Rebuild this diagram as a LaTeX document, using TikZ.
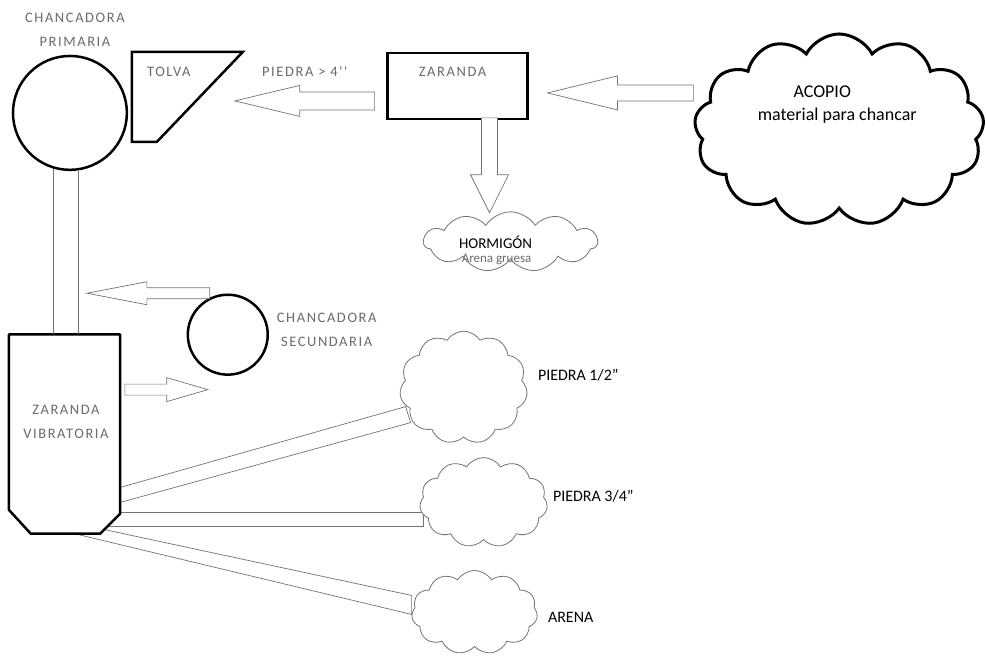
\documentclass[tikz,border=0pt]{standalone}
\usepackage{fontspec}
\setmainfont{Carlito}
\newfontfamily\spaced[LetterSpace=11]{Carlito}
\usetikzlibrary{shapes.symbols,calc}
\tikzset{
	crusher/.style  = {draw, circle, line width=2.5pt},
	screen/.style   = {draw, rectangle, line width=2.5pt},
	pile/.style     = {draw=black!55, fill=white, cloud, cloud puffs=11,
		cloud puff arc=115, line width=0.8pt},
	bigpile/.style  = {draw, fill=white, cloud, cloud puffs=13,
		cloud puff arc=125, line width=3pt},
	greylbl/.style  = {text=black!58, align=center,
		font=\spaced\fontsize{14.5}{24}\selectfont},
	blacklbl/.style = {text=black, align=center, font=\fontsize{16}{24}\selectfont},
	blk/.style      = {draw=black!55, line width=0.7pt, fill=white},
	chute/.style    = {draw=black!55, line width=0.7pt}
}
% block arrow: tail, tip, shaft half width, head half width, head length
\newcommand{\blockarrow}[5]{%
	\path ($(#2)!#5!(#1)$) coordinate (base);
	\draw[blk] ($(#1)!#3!90:(#2)$) -- ($(base)!#3!90:(#2)$) -- ($(base)!#4!90:(#2)$) -- (#2)
		-- ($(base)!#4!-90:(#2)$) -- ($(base)!#3!-90:(#2)$) -- ($(#1)!#3!-90:(#2)$) -- cycle;}

\begin{document}
\begin{tikzpicture}[x=1pt, y=-1pt]
	\fill[white] (0,0) rectangle (986,657);
	
	% Drawing the chutes out of the vibrating screen
	\coordinate (c1a) at (120,488); \coordinate (c1b) at (406,407);
	\coordinate (c1c) at (411,423); \coordinate (c1d) at (120,503);
	\coordinate (c2a) at (119,513); \coordinate (c2b) at (424,513);
	\coordinate (c2c) at (424,527); \coordinate (c2d) at (106,527);
	\coordinate (c3a) at (104,530); \coordinate (c3b) at (412,596);
	\coordinate (c3c) at (412,615); \coordinate (c3d) at (78,535);
	\draw[chute] (c1a) -- (c1b) -- (c1c) -- (c1d);
	\draw[chute] (c2a) -- (c2b) -- (c2c) -- (c2d);
	\draw[chute] (c3a) -- (c3b) -- (c3c) -- (c3d);
	
	% Drawing the equipment
	\draw
	node at (70,113) [crusher, minimum size=114pt] (prim) {}
	node at (228,335) [crusher, minimum size=80pt] (sec) {}
	node at (458,86) [screen, minimum width=140pt, minimum height=66pt] (zar) {}
	node at (64.5,434.5) [minimum width=111pt, minimum height=199pt] (vib) {}
	node at (840,130) [bigpile, minimum width=290pt, minimum height=192pt] (acopio) {}
	node at (511,242) [pile, minimum width=174pt, minimum height=60pt] (horm) {}
	node at (464,388) [pile, minimum width=128pt, minimum height=113pt] (p12) {}
	node at (484,503) [pile, minimum width=128pt, minimum height=90pt] (p34) {}
	node at (475,613) [pile, minimum width=126pt, minimum height=84pt] (arena) {}
	;
	% tolva and vibrating screen body
	\draw[line width=2.5pt] (132,52) -- (243,52) -- (157,142) -- (132,142) -- cycle;
	\draw[line width=2.5pt, line join=round] (vib.north west) -- (vib.north east)
		-- ($(vib.south east)+(0,-20)$) -- ($(vib.south east)+(-20,0)$)
		-- ($(vib.south west)+(22,0)$) -- ($(vib.south west)+(0,-24)$) -- cycle;
	
	% conduit from primary crusher to the vibrating screen
	\draw[chute] (prim.253) -- (prim.253 |- vib.north);
	\draw[chute] (prim.278) -- (prim.278 |- vib.north);
	
	% Drawing the block arrows
	\coordinate (a1tail) at (375,101); \coordinate (a1tip) at (235,101);
	\coordinate (a2tail) at (694,93);  \coordinate (a2tip) at (548,93);
	\coordinate (a3tail) at (490,118); \coordinate (a3tip) at (490,213);
	\coordinate (a4tail) at (210,293.5); \coordinate (a4tip) at (87,293.5);
	\coordinate (a5tail) at (125,390); \coordinate (a5tip) at (208,390);
	\blockarrow{a1tail}{a1tip}{9pt}{15.5pt}{65pt}
	\blockarrow{a2tail}{a2tip}{8pt}{17pt}{70pt}
	\blockarrow{a3tail}{a3tip}{8pt}{19pt}{38pt}
	\blockarrow{a4tail}{a4tip}{5.5pt}{11.5pt}{60pt}
	\blockarrow{a5tail}{a5tip}{5.5pt}{12pt}{41pt}
	
	% labels
	\draw
	node at (75,30) [greylbl] (lprim) {CHANCADORA\\PRIMARIA}
	node at (169,72) [greylbl] (ltolva) {TOLVA}
	node at (305,72) [greylbl] (lp4) {PIEDRA > 4''}
	node at (453,72) [greylbl] (lzar) {ZARANDA}
	node at (327,330) [greylbl] (lsec) {CHANCADORA\\SECUNDARIA}
	node at (66,422) [greylbl] (lvib) {ZARANDA\\VIBRATORIA}
	node at (823,92) [blacklbl, font=\fontsize{18}{22}\selectfont] (lacopio) {ACOPIO}
	node at (838,116) [blacklbl, font=\fontsize{18}{22}\selectfont] (lmat) {material para chancar}
	node at (496,243) [blacklbl, font=\fontsize{15}{18}\selectfont] (lhorm) {HORMIGÓN}
	node at (497,260) [greylbl, font=\fontsize{13}{16}\selectfont] (lgruesa) {Arena gruesa}
	node at (535,376) [blacklbl, anchor=west] (lp12) {PIEDRA 1/2''}
	node at (550,497) [blacklbl, anchor=west] (lp34) {PIEDRA 3/4''}
	node at (545,618) [blacklbl, anchor=west] (larena) {ARENA}
	;
\end{tikzpicture}
\end{document}
